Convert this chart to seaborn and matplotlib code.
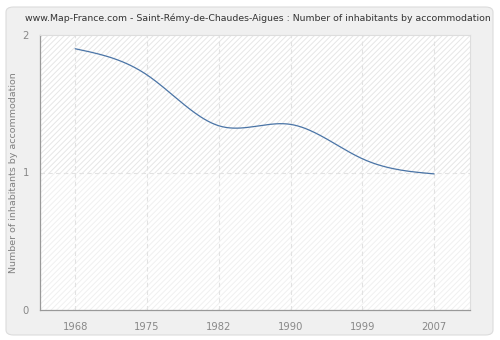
import numpy as np
import pandas as pd
import matplotlib
matplotlib.use("Agg")
import matplotlib.pyplot as plt
from matplotlib.patches import FancyBboxPatch, Rectangle
import seaborn as sns

years = ["1968", "1975", "1982", "1990", "1999", "2007"]
values = [1.90, 1.71, 1.34, 1.35, 1.10, 0.99]
y_ticks = [0, 1, 2]
title = "www.Map-France.com - Saint-Rémy-de-Chaudes-Aigues : Number of inhabitants by accommodation"
y_label = "Number of inhabitants by accommodation"

sns.set_style("white")
plt.rcParams["font.family"] = ["DejaVu Sans"]
plt.rcParams["hatch.linewidth"] = 0.7

fig = plt.figure(figsize=(5.0, 3.4), dpi=100)
fig.patch.set_facecolor("white")
W, H = 500, 340
frame = FancyBboxPatch((6 / W, 5 / H), 487 / W, 328 / H,
                       boxstyle="round,pad=0,rounding_size=0.015",
                       transform=fig.transFigure, facecolor="#f0f0f0",
                       edgecolor="#dcdcdc", linewidth=0.8, zorder=-10)
fig.patches.append(frame)

ax = fig.add_axes([40 / W, (H - 310) / H, 430 / W, 275 / H])
ax.set_zorder(5)
ax.set_facecolor("white")

# smooth rendering curve through the data (natural cubic spline)
xi = np.arange(len(values), dtype=float)
yi = np.array(values, dtype=float)
n = len(xi)
A = np.zeros((n, n))
b = np.zeros(n)
A[0, 0] = A[-1, -1] = 1.0
for i in range(1, n - 1):
    A[i, i - 1], A[i, i], A[i, i + 1] = 1.0, 4.0, 1.0
    b[i] = 6.0 * (yi[i + 1] - 2 * yi[i] + yi[i - 1])
M = np.linalg.solve(A, b)
xs, ys = [], []
for k in range(n - 1):
    t = np.linspace(0, 1, 40)
    s = (1 - t) * yi[k] + t * yi[k + 1] + ((1 - t) ** 3 - (1 - t)) * M[k] / 6 + (t ** 3 - t) * M[k + 1] / 6
    xs.extend(xi[k] + t)
    ys.extend(s)
curve = pd.DataFrame({"x": xs, "y": ys})

# background hatch
ax.add_patch(Rectangle((-0.5, 1), 6, 1, facecolor="white", edgecolor="#e6e6e6",
                       hatch="//////", linewidth=0, zorder=0))
ax.add_patch(Rectangle((-0.5, 0), 6, 1, facecolor="white", edgecolor="#f0f0f0",
                       hatch="//////", linewidth=0, zorder=0))

sns.lineplot(data=curve, x="x", y="y", ax=ax, color="#4a74a6", linewidth=0.9,
             zorder=3, estimator=None, sort=False)

ax.set_xlim(-0.49, 5.5)
ax.set_ylim(0, 2)
ax.set_xticks(xi)
ax.set_xticklabels(years)
ax.set_yticks(y_ticks)
ax.set_yticklabels([str(v) for v in y_ticks])
ax.set_xlabel("")
ax.set_ylabel(y_label, color="#808080", fontsize=6.8)
ax.yaxis.set_label_coords(-0.05, 0.5)

for x in xi:
    ax.axvline(x, color="#e2e2e2", linestyle=(0, (4, 3)), linewidth=0.8, zorder=1)
ax.axhline(1, color="#e2e2e2", linestyle=(0, (4, 3)), linewidth=0.8, zorder=1)

for s in ["left", "bottom"]:
    ax.spines[s].set_color("#999999")
    ax.spines[s].set_linewidth(0.9)
for s in ["top", "right"]:
    ax.spines[s].set_color("#dddddd")
    ax.spines[s].set_linewidth(0.8)

ax.tick_params(axis="both", colors="#999999", labelcolor="#888888",
               labelsize=7.2, length=4, width=0.8, direction="out")
ax.tick_params(axis="x", pad=5)
ax.tick_params(axis="y", pad=4)

fig.text(25 / W, 1 - 18 / H, title, fontsize=6.75, color="#333333",
         ha="left", va="center")

fig.savefig("out.png", dpi=100, facecolor=fig.get_facecolor())
